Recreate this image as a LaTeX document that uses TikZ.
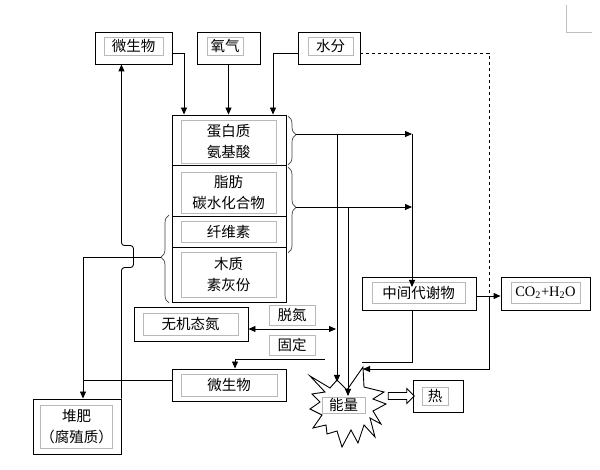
\documentclass[tikz,border=0pt]{standalone}
\usepackage{fontspec}
\setmainfont{Liberation Serif}
\newfontfamily\cjk{Noto Sans CJK SC}
\usetikzlibrary{arrows.meta,decorations.pathreplacing,shapes.arrows}

\tikzset{
  obox/.style={draw, line width=0.9pt, inner sep=0pt},
  gbox/.style={draw=gray!55, line width=0.6pt, inner sep=0pt, align=center,
    font=\cjk\fontsize{14.5}{21}\selectfont},
  conn/.style={line width=0.9pt},
  arr/.style={conn, -{Triangle[length=7pt,width=6pt]}},
  brc/.style={draw=darkgray, line width=0.7pt, decorate},
}

\begin{document}
\begin{tikzpicture}[x=1pt, y=-1pt]
      \useasboundingbox (0,0) rectangle (600,470);
      % top row
      \node[obox, minimum width=77pt, minimum height=32pt] (mwTop) at (133.5,48) {};
      \node[gbox, minimum width=59pt, minimum height=18pt] at (133.5,46) {微生物};
      \node[obox, minimum width=63pt, minimum height=32pt] (yang) at (228.5,48) {};
      \node[gbox, minimum width=36pt, minimum height=18pt] at (225,46) {氧气};
      \node[obox, minimum width=62pt, minimum height=32pt] (shui) at (329,48) {};
      \node[gbox, minimum width=45pt, minimum height=18pt] at (330.5,46) {水分};

      % organic matter column
      \node[obox, minimum width=114pt, minimum height=50pt] (dan) at (229,140) {};
      \node[gbox, minimum width=95pt, minimum height=43pt] at (228.5,141.5) {蛋白质\\氨基酸};
      \node[obox, minimum width=114pt, minimum height=51pt] (zhi) at (229,190.5) {};
      \node[gbox, minimum width=95pt, minimum height=41pt] at (228.5,192.5) {脂肪\\碳水化合物};
      \node[obox, minimum width=114pt, minimum height=31pt] (xian) at (229,231.5) {};
      \node[gbox, minimum width=95pt, minimum height=21pt] at (228.5,231.5) {纤维素};
      \node[obox, minimum width=114pt, minimum height=55pt] (mu) at (229,274.5) {};
      \node[gbox, minimum width=95pt, minimum height=45pt] at (228.5,274.5) {木质\\素灰份};

      % braces
      \draw[brc, decoration={brace, amplitude=8pt, aspect=0.38}] (288,116) -- (288,165);
      \draw[brc, decoration={brace, amplitude=8pt, aspect=0.47}] (288,167) -- (288,253);
      \draw[brc, decoration={brace, amplitude=8pt, aspect=0.52}] (169,303) -- (169,215);
      \coordinate (b1) at (296,134);
      \coordinate (b2) at (296,207);
      \coordinate (b3) at (161,257);

      % right side
      \node[obox, minimum width=114pt, minimum height=33pt] (zhong) at (419,293.5) {};
      \node[gbox, minimum width=93pt, minimum height=21pt] at (418.5,292.5) {中间代谢物};
      \node[obox, minimum width=89pt, minimum height=33pt] (co2) at (545.5,293.5) {};
      \node[gbox, minimum width=69pt, minimum height=21pt, font=\fontsize{14.5}{16}\selectfont]
        at (545.5,292.5) {CO\textsubscript{2}+H\textsubscript{2}O};

      % nitrogen and microbes
      \node[obox, minimum width=114pt, minimum height=34pt] (wuji) at (191,324) {};
      \node[gbox, minimum width=95pt, minimum height=22pt] at (190.5,324) {无机态氮};
      \node[gbox, minimum width=46pt, minimum height=20pt] (tuo) at (292,315) {脱氮};
      \node[gbox, minimum width=46pt, minimum height=20pt] (gu) at (292,345) {固定};
      \node[obox, minimum width=114pt, minimum height=32pt] (mwLow) at (229,385) {};
      \node[gbox, minimum width=96pt, minimum height=22pt] at (229,385) {微生物};
      \node[obox, minimum width=88pt, minimum height=55pt] (dui) at (77,426.5) {};
      \node[gbox, minimum width=69pt, minimum height=43pt] at (76.5,426.5) {堆肥\\（腐殖质）};

      % energy burst
      \draw[line width=0.9pt, fill=white] (310,376) -- (330,388) -- (337,380) -- (347,390)
        -- (363,367) -- (364,387) -- (384,392) -- (373,399) -- (386,404) -- (373,411)
        -- (381,424) -- (370,418) -- (375,437) -- (364,425) -- (358,443) -- (351,430)
        -- (342,447) -- (337,431) -- (327,434) -- (326,425) -- (313,428) -- (322,415)
        -- (310,409) -- (320,402) -- (312,394) -- (325,392) -- cycle;
      \node[gbox, fill=white, minimum width=43pt, minimum height=16pt] (neng) at (343.5,405) {能量};
      \coordinate (s1) at (337,382);
      \coordinate (s2) at (348,396);
      \coordinate (s3) at (363,369);
      \node[draw, single arrow, line width=0.8pt, inner sep=3pt, single arrow head extend=4pt,
        minimum height=26pt] (out) at (399.5,396) {};
      \node[obox, minimum width=50pt, minimum height=32pt] (re) at (438,396) {};
      \node[gbox, minimum width=26pt, minimum height=18pt] at (435,396) {热};

      % inputs
      \coordinate (c1) at (184,53);
      \coordinate (c2) at (273,53);
      \draw[arr] (mwTop.east |- c1) -| (dan.north -| c1);
      \draw[arr] (yang.south) -- (dan.north -| yang.south);
      \draw[arr] (shui.west |- c2) -| (dan.north -| c2);

      % decomposition
      \coordinate (m1) at (412,134);
      \coordinate (m2) at (412,207);
      \coordinate (v1) at (337,134);
      \coordinate (v2) at (348,207);
      \draw[arr] (b1) -- (m1);
      \draw[arr] (b2) -- (m2);
      \draw[arr] (m1) -- (m1 |- 0,287);
      \draw[arr] (v1) -- (s1);
      \draw[arr] (v2) -- (s2);
      \draw[conn] (m1 |- zhong.south) |- (362,362);

      % CO2 and water
      \coordinate (j0) at (489,53);
      \coordinate (j1) at (489,296);
      \draw[conn, dashed] (shui.east |- j0) -- (j0) -- (j1);
      \draw[arr] (zhong.east |- j1) -- (co2.west |- j1);
      \draw[arr] (j1) |- (s3);

      % nitrogen
      \coordinate (t1) at (336,329);
      \coordinate (t2) at (325,359);
      \draw[conn, {Triangle[length=7pt,width=6pt]}-{Triangle[length=7pt,width=6pt]}] (wuji.east |- t1) -- (t1);
      \draw[arr] (t2) -| ([xshift=6pt]mwLow.north);

      % humus
      \coordinate (k1) at (83,257);
      \coordinate (k2) at (83,380);
      \draw[conn] (b3) -- (k1);
      \draw[arr] (k1) -- (dui.north -| k1);
      \draw[conn] (mwLow.west |- k2) -- (k2);
      \draw[arr, rounded corners=3pt] (dui.north east) -- ++(0,-131) -- ++(12,0) -- ++(0,-22)
        -- ++(-12,0) -- (dui.north east |- mwTop.south);

      % page corner
      \draw[gray!50, line width=0.6pt] (566,5) -- (566,32) -- (592,32);
\end{tikzpicture}
\end{document}
